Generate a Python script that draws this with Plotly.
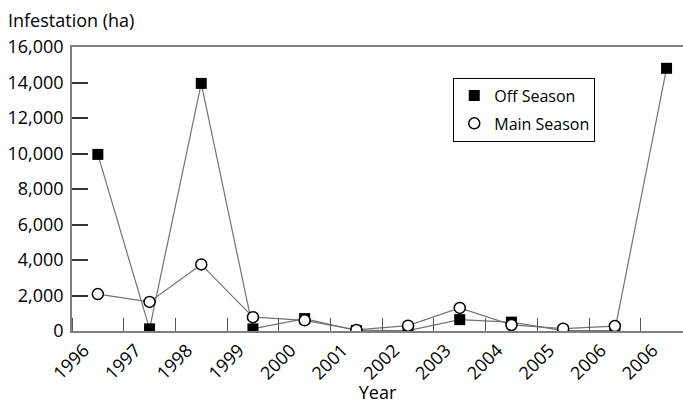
import plotly.graph_objects as go

# Infestation area by year, off season vs main season
year_labels = ["1996", "1997", "1998", "1999", "2000", "2001",
               "2002", "2003", "2004", "2005", "2006", "2006"]
positions = list(range(len(year_labels)))
off_season = [9950, 120, 13950, 120, 700, 30, 20, 640, 500, 20, 30, 14800]
main_season = [2080, 1640, 3750, 780, 600, 60, 300, 1300, 340, 130, 280, None]
y_ticks = [0, 2000, 4000, 6000, 8000, 10000, 12000, 14000, 16000]

FONT = "Open Sans"
LINE_COLOR = "#737373"

fig = go.Figure()

# connecting lines (kept out of the legend)
fig.add_trace(go.Scatter(x=positions, y=off_season, mode="lines",
                         line=dict(color=LINE_COLOR, width=1.2),
                         showlegend=False, hoverinfo="skip"))
fig.add_trace(go.Scatter(x=positions, y=off_season, mode="markers",
                         name="Off Season", legendgroup="off",
                         marker=dict(symbol="square", size=11, color="black",
                                     line=dict(width=0))))
fig.add_trace(go.Scatter(x=positions, y=main_season, mode="lines",
                         line=dict(color=LINE_COLOR, width=1.2),
                         showlegend=False, hoverinfo="skip", connectgaps=False))
fig.add_trace(go.Scatter(x=positions, y=main_season, mode="markers",
                         name="Main Season", legendgroup="main",
                         marker=dict(symbol="circle", size=11, color="white",
                                     line=dict(color="black", width=1.5))))

fig.update_layout(
    width=683, height=404,
    margin=dict(l=72, r=0, t=47, b=73),
    paper_bgcolor="white", plot_bgcolor="white",
    font=dict(family=FONT, size=18, color="black"),
    showlegend=True,
    legend=dict(x=0.624, y=0.892, xanchor="left", yanchor="top",
                bgcolor="white", bordercolor="black", borderwidth=1,
                font=dict(family=FONT, size=16, color="black"),
                traceorder="grouped", tracegroupgap=4, itemsizing="trace"),
    annotations=[dict(text="Infestation (ha)", x=0, y=1, xref="paper", yref="paper",
                      xanchor="left", yanchor="bottom", xshift=-66, yshift=13,
                      showarrow=False, font=dict(family=FONT, size=18, color="black"))],
)

fig.update_xaxes(
    range=[-0.5, 11.318], showgrid=False, zeroline=False,
    tickmode="array", tickvals=positions, ticktext=year_labels,
    ticks="", tickangle=-45, ticklabelshift=-14,
    tickfont=dict(family=FONT, size=18, color="black"),
    showline=True, linecolor="#808080", linewidth=1.5, mirror=True,
    minor=dict(tickmode="linear", tick0=0.5, dtick=1, ticks="inside",
               ticklen=13, tickwidth=1, tickcolor="#555555"),
    title=dict(text="Year", font=dict(family=FONT, size=18, color="black"), standoff=2),
)
fig.update_yaxes(
    range=[0, 16000], showgrid=False, zeroline=False,
    tickmode="array", tickvals=y_ticks, tickformat=",d",
    ticks="inside", ticklen=16, tickwidth=1.5, tickcolor="#333333",
    tickfont=dict(family=FONT, size=18, color="black"), ticklabelstandoff=3,
    showline=True, linecolor="#808080", linewidth=1.5,
)

fig.write_html("out.html")
